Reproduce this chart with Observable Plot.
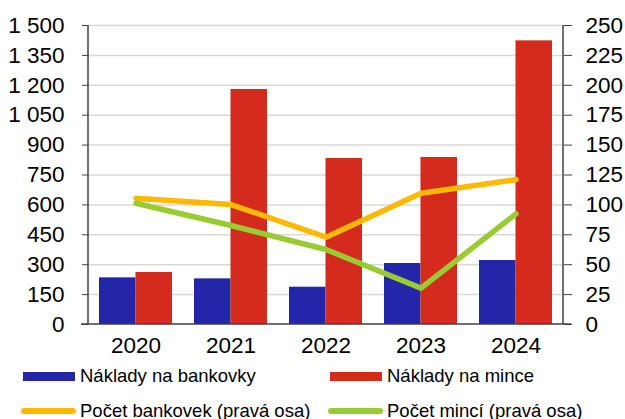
<!DOCTYPE html>
<html>
<head>
<meta charset="utf-8">
<script src="https://cdn.jsdelivr.net/npm/d3@7"></script>
<script src="https://cdn.jsdelivr.net/npm/@observablehq/plot@0.6"></script>
<style>
  body { margin: 0; background: #fff; }
  #wrap { position: relative; width: 625px; height: 419px; font-family: "Liberation Sans", Arial, sans-serif; color: #000; overflow: hidden; }
  #chart svg { display: block; }
  .sw { position: absolute; }
  .lt { position: absolute; font-size: 18.5px; line-height: 16px; white-space: nowrap; }
</style>
</head>
<body>
<div id="wrap">
  <div id="chart"></div>
  <div id="legend"></div>
</div>
<script>
// ---- data ----
const years = ["2020", "2021", "2022", "2023", "2024"];
const costNotes = [234, 229, 187, 306, 321];        // Náklady na bankovky (left axis)
const costCoins = [261, 1179, 833, 838, 1423];      // Náklady na mince (left axis)
const countNotes = [105.6, 100.3, 73.0, 109.8, 121.2]; // Počet bankovek (right axis)
const countCoins = [101.4, 82.8, 62.7, 30.4, 92.5];    // Počet mincí (right axis)
const leftTicks = [0, 150, 300, 450, 600, 750, 900, 1050, 1200, 1350, 1500];
const rightTicks = [0, 25, 50, 75, 100, 125, 150, 175, 200, 225, 250];
const seriesNames = ["Náklady na bankovky", "Náklady na mince", "Počet bankovek (pravá osa)", "Počet mincí (pravá osa)"];
const colors = ["#2326a8", "#d52b1e", "#ffb900", "#99cc33"];

// ---- build ----
const k = leftTicks[leftTicks.length - 1] / rightTicks[rightTicks.length - 1];
const rows = years.map((year, i) => ({
  year, notes: costNotes[i], coins: costCoins[i],
  cNotes: countNotes[i] * k, cCoins: countCoins[i] * k
}));
const fmt = d3.formatLocale({thousands: " ", grouping: [3], decimal: ","}).format(",");
const padInner = 0.232;
const halfBar = 95 * (1 - padInner) / 2;
const axisColor = "#404040";

const chart = Plot.plot({
  width: 625,
  height: 362,
  marginLeft: 88,
  marginRight: 62,
  marginTop: 25,
  marginBottom: 38,
  style: {fontFamily: "'Liberation Sans', Arial, sans-serif", fontSize: "22.5px", color: "#000", background: "#fff"},
  x: {domain: years, paddingInner: padInner, paddingOuter: padInner / 2},
  y: {domain: [0, 1500]},
  marks: [
    Plot.gridY(leftTicks.slice(1), {stroke: "#d9d9d9", strokeOpacity: 1, strokeWidth: 1.5}),
    Plot.barY(rows, {x: "year", y: "notes", fill: colors[0], insetRight: halfBar}),
    Plot.barY(rows, {x: "year", y: "coins", fill: colors[1], insetLeft: halfBar}),
    Plot.line(rows, {x: "year", y: "cNotes", stroke: colors[2], strokeWidth: 5.5, strokeLinecap: "round", strokeLinejoin: "round"}),
    Plot.line(rows, {x: "year", y: "cCoins", stroke: colors[3], strokeWidth: 5.5, strokeLinecap: "round", strokeLinejoin: "round"}),
    (index, scales, values, dims) => {
      const g = d3.create("svg:g").attr("stroke", axisColor).attr("stroke-width", 1.5).attr("fill", "none");
      const l = dims.marginLeft, r = dims.width - dims.marginRight;
      const t = dims.marginTop, b = dims.height - dims.marginBottom;
      g.append("line").attr("x1", l).attr("x2", l).attr("y1", t).attr("y2", b);
      g.append("line").attr("x1", r).attr("x2", r).attr("y1", t).attr("y2", b);
      g.append("line").attr("x1", l - 7).attr("x2", r + 8).attr("y1", b).attr("y2", b);
      return g.node();
    },
    Plot.axisY({anchor: "left", ticks: leftTicks, tickFormat: fmt, tickSize: 6, tickPadding: 18, stroke: axisColor, label: null, fontSize: 22.5}),
    Plot.axisY({anchor: "right", ticks: leftTicks, tickFormat: d => String(d / k), tickSize: 8, tickPadding: 14, stroke: axisColor, label: null, fontSize: 22.5}),
    Plot.axisX({anchor: "bottom", tickSize: 0, tickPadding: 13, label: null, fontSize: 22.5})
  ]
});
document.getElementById("chart").appendChild(chart);

// ---- legend ----
const legend = document.getElementById("legend");
const items = [
  {name: seriesNames[0], color: colors[0], type: "rect", x: 23, tx: 80, cy: 376},
  {name: seriesNames[1], color: colors[1], type: "rect", x: 330, tx: 387, cy: 376},
  {name: seriesNames[2], color: colors[2], type: "line", x: 21, tx: 80, cy: 410.5},
  {name: seriesNames[3], color: colors[3], type: "line", x: 328, tx: 387, cy: 410.5}
];
for (const it of items) {
  const sw = document.createElement("div");
  sw.className = "sw";
  sw.style.background = it.color;
  if (it.type === "rect") {
    sw.style.left = it.x + "px"; sw.style.width = "52px";
    sw.style.top = (it.cy - 4.5) + "px"; sw.style.height = "9px";
  } else {
    sw.style.left = it.x + "px"; sw.style.width = "55px";
    sw.style.top = (it.cy - 3) + "px"; sw.style.height = "6px";
    sw.style.borderRadius = "3px";
  }
  legend.appendChild(sw);
  const tx = document.createElement("div");
  tx.className = "lt";
  tx.textContent = it.name;
  tx.style.left = it.tx + "px";
  tx.style.top = (it.cy - 8) + "px";
  legend.appendChild(tx);
}
</script>
</body>
</html>
